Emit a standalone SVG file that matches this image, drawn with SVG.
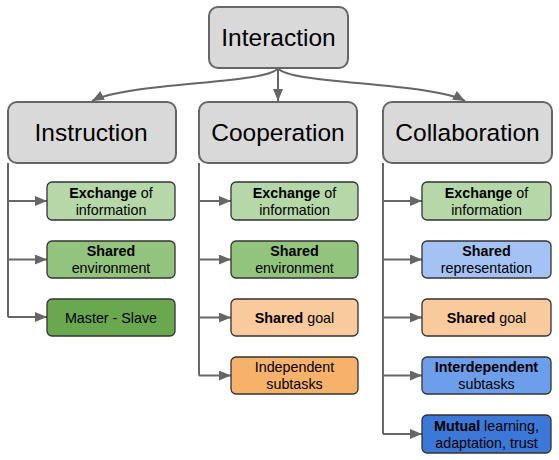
<svg xmlns="http://www.w3.org/2000/svg" width="559" height="460" viewBox="0 0 559 460">
<defs>
<marker id="ah" viewBox="0 0 12 10" refX="12" refY="5" markerWidth="12" markerHeight="10" markerUnits="userSpaceOnUse" orient="auto">
<path d="M0,0 L12,5 L0,10 Z" fill="#666666"/>
</marker>
<style>
.main{fill:#d9d9d9;stroke:#666666;stroke-width:2}
.leaf{stroke:#333333;stroke-width:1.3}
.t1{font-family:"Liberation Sans",Arial,sans-serif;font-size:24.5px;fill:#000;text-anchor:middle}
.t2{font-family:"Liberation Sans",Arial,sans-serif;font-size:14.3px;fill:#000;text-anchor:middle}
.b{font-weight:bold}
.con{fill:none;stroke:#666666;stroke-width:2}
.g1{fill:#b6d7a8}.g2{fill:#93c47d}.g3{fill:#6aa84f}
.o1{fill:#f9cb9c}.o2{fill:#f6b26b}
.bl1{fill:#a4c2f4}.bl2{fill:#6d9eeb}.bl3{fill:#3c78d8}
</style>
</defs>
<g id="connectors">
<path class="con" d="M278,68 C270,84 128,82 92,101" marker-end="url(#ah)"/>
<path class="con" d="M278,68 L278,101" marker-end="url(#ah)"/>
<path class="con" d="M278,68 C286,84 430,82 465,101" marker-end="url(#ah)"/>
<path class="con" d="M8,163 L8,317"/>
<path class="con" d="M8,201 L47,201" marker-end="url(#ah)"/>
<path class="con" d="M8,259.5 L47,259.5" marker-end="url(#ah)"/>
<path class="con" d="M8,317 L47,317" marker-end="url(#ah)"/>
<path class="con" d="M199,163 L199,375.5"/>
<path class="con" d="M199,201 L231,201" marker-end="url(#ah)"/>
<path class="con" d="M199,259.5 L231,259.5" marker-end="url(#ah)"/>
<path class="con" d="M199,317.5 L231,317.5" marker-end="url(#ah)"/>
<path class="con" d="M199,375.5 L231,375.5" marker-end="url(#ah)"/>
<path class="con" d="M383,163 L383,434"/>
<path class="con" d="M383,201 L422,201" marker-end="url(#ah)"/>
<path class="con" d="M383,259.5 L422,259.5" marker-end="url(#ah)"/>
<path class="con" d="M383,317.5 L422,317.5" marker-end="url(#ah)"/>
<path class="con" d="M383,375.5 L422,375.5" marker-end="url(#ah)"/>
<path class="con" d="M383,434 L422,434" marker-end="url(#ah)"/>
</g>
<g id="interaction"><rect class="main" x="209" y="7" width="139" height="61" rx="9"/><text class="t1" x="278.5" y="46">Interaction</text></g>
<g id="instruction"><rect class="main" x="8" y="102" width="168" height="61" rx="9"/><text class="t1" x="91" y="141">Instruction</text></g>
<g id="cooperation"><rect class="main" x="199" y="102" width="158" height="61" rx="9"/><text class="t1" x="278" y="141">Cooperation</text></g>
<g id="collaboration"><rect class="main" x="383" y="102" width="169" height="61" rx="9"/><text class="t1" x="467.5" y="141">Collaboration</text></g>

<g id="ins-exchange"><rect class="leaf g1" x="47" y="182" width="128" height="38" rx="5"/><text class="t2" x="111" y="198"><tspan class="b">Exchange</tspan> of</text><text class="t2" x="111" y="215">information</text></g>
<g id="ins-shared"><rect class="leaf g2" x="47" y="241" width="128" height="37" rx="5"/><text class="t2 b" x="111" y="256">Shared</text><text class="t2" x="111" y="273">environment</text></g>
<g id="ins-master"><rect class="leaf g3" x="47" y="299" width="128" height="37" rx="5"/><text class="t2" x="111" y="322.5">Master - Slave</text></g>

<g id="coop-exchange"><rect class="leaf g1" x="231" y="182" width="127" height="38" rx="5"/><text class="t2" x="294.5" y="198"><tspan class="b">Exchange</tspan> of</text><text class="t2" x="294.5" y="215">information</text></g>
<g id="coop-shared"><rect class="leaf g2" x="231" y="241" width="127" height="37" rx="5"/><text class="t2 b" x="294.5" y="256">Shared</text><text class="t2" x="294.5" y="273">environment</text></g>
<g id="coop-goal"><rect class="leaf o1" x="231" y="299" width="127" height="37" rx="5"/><text class="t2" x="294.5" y="322.5"><tspan class="b">Shared</tspan> goal</text></g>
<g id="coop-indep"><rect class="leaf o2" x="231" y="357" width="127" height="37" rx="5"/><text class="t2" x="294.5" y="372">Independent</text><text class="t2" x="294.5" y="389">subtasks</text></g>

<g id="col-exchange"><rect class="leaf g1" x="422" y="182" width="129" height="38" rx="5"/><text class="t2" x="486.5" y="198"><tspan class="b">Exchange</tspan> of</text><text class="t2" x="486.5" y="215">information</text></g>
<g id="col-shared"><rect class="leaf bl1" x="422" y="241" width="129" height="37" rx="5"/><text class="t2 b" x="486.5" y="256">Shared</text><text class="t2" x="486.5" y="273">representation</text></g>
<g id="col-goal"><rect class="leaf o1" x="422" y="299" width="129" height="37" rx="5"/><text class="t2" x="486.5" y="322.5"><tspan class="b">Shared</tspan> goal</text></g>
<g id="col-interdep"><rect class="leaf bl2" x="422" y="357" width="129" height="37" rx="5"/><text class="t2 b" x="486.5" y="372">Interdependent</text><text class="t2" x="486.5" y="389">subtasks</text></g>
<g id="col-mutual"><rect class="leaf bl3" x="422" y="415" width="129" height="38" rx="5"/><text class="t2" x="486.5" y="431"><tspan class="b">Mutual</tspan> learning,</text><text class="t2" x="486.5" y="448">adaptation, trust</text></g>
</svg>
